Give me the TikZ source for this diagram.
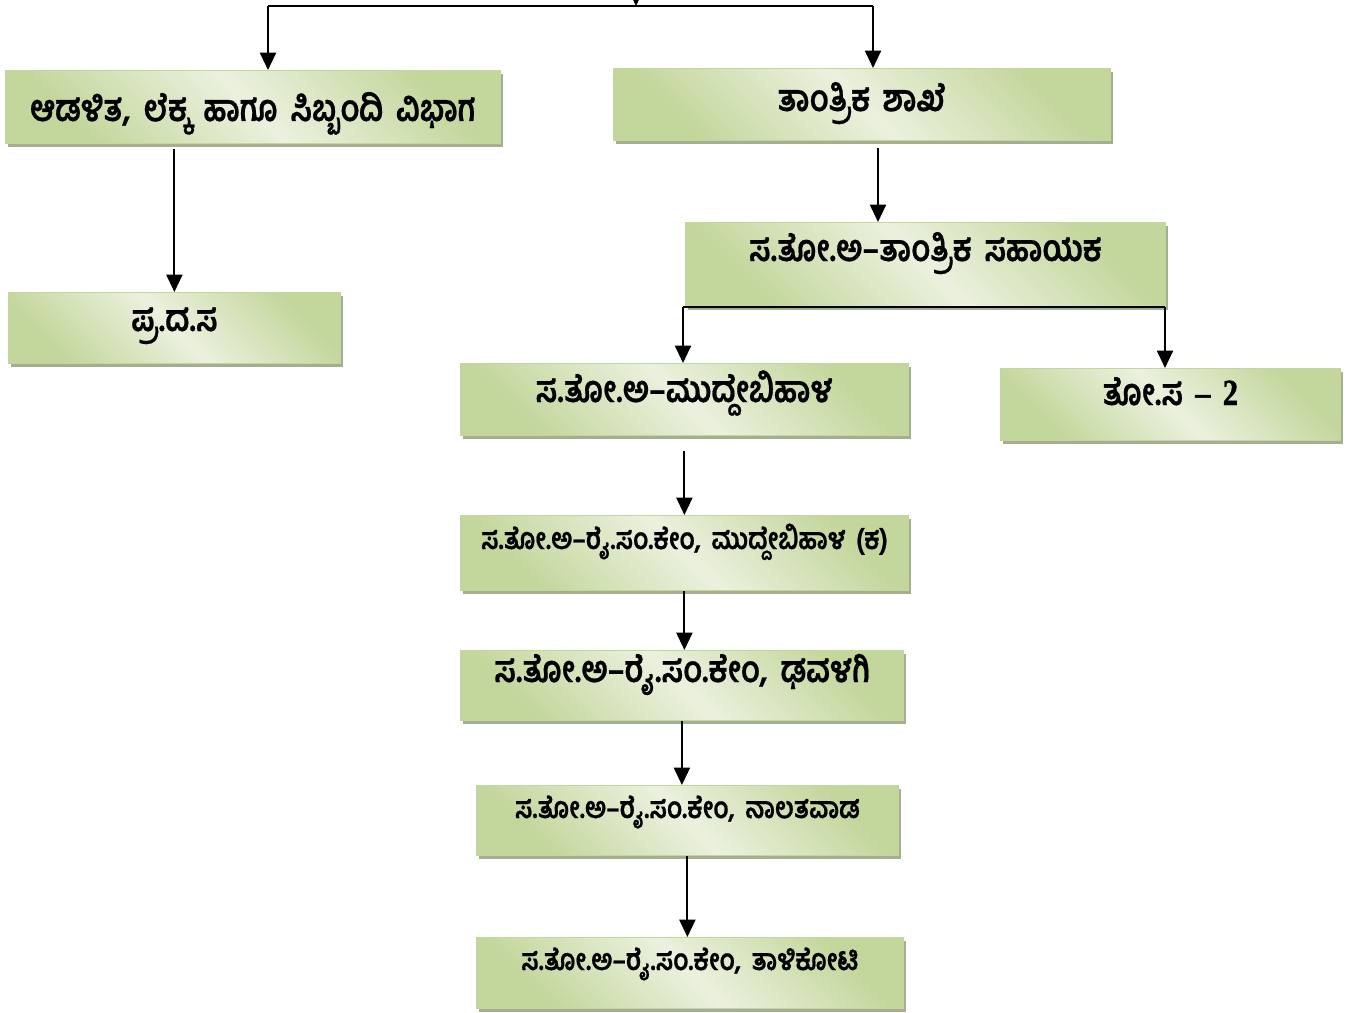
\documentclass[tikz,border=0pt]{standalone}
\usepackage{graphicx}
\usepackage{fontspec}
\setmainfont{Liberation Serif}
\newfontfamily\kn[Script=Kannada, WordSpace=1.7, BoldFeatures={FakeBold=0.7}]{Hind Mysuru}
\newfontfamily\numfont[FakeBold=1.2]{Liberation Serif Bold}
\newcommand\kt[1]{\scalebox{1}[1.2]{#1}}
\usetikzlibrary{arrows.meta,shadows,calc}
\definecolor{gdark}{HTML}{C3D69B}
\definecolor{glight}{HTML}{EBF1DE}
\definecolor{gedge}{HTML}{C3D69B}
\definecolor{gshadow}{HTML}{A6AE91}
\begin{document}
\begin{tikzpicture}[x=0.75pt,y=-0.75pt,
  box/.style={draw=gedge, line width=0.6pt, top color=gdark, bottom color=gdark, middle color=glight, shading angle=-45,
    drop shadow={shadow xshift=2.25pt, shadow yshift=-3pt, fill=gshadow, opacity=1},
    anchor=north west, inner sep=0pt},
  big/.style={font=\kn\bfseries\fontsize{23}{28}\selectfont, anchor=base, inner sep=0pt},
  small/.style={font=\kn\bfseries\fontsize{18.5}{23}\selectfont, anchor=base, inner sep=0pt},
  arr/.style={line width=1.5pt, -{Triangle[width=12pt,length=13pt]}},
  ln/.style={line width=1.5pt}]
\useasboundingbox (0,0) rectangle (1359,1013);
% boxes
\node[box, minimum width=371.25pt, minimum height=54.75pt] (adm) at (5,70) {};
\node[box, minimum width=372.75pt, minimum height=54pt] (tech) at (613,68) {};
\node[box, minimum width=249pt, minimum height=53.25pt] (pra) at (8,292) {};
\node[box, minimum width=360pt, minimum height=63pt] (tsa) at (685,222) {};
\node[box, minimum width=336pt, minimum height=54pt] (mud) at (460,363) {};
\node[box, minimum width=255pt, minimum height=54pt] (tos) at (1000,368) {};
\node[box, minimum width=336pt, minimum height=56.25pt] (rk1) at (460,515) {};
\node[box, minimum width=332.25pt, minimum height=52.5pt] (rk2) at (460,650) {};
\node[box, minimum width=316.5pt, minimum height=52.5pt] (rk3) at (476,785) {};
\node[box, minimum width=320.25pt, minimum height=53.25pt] (rk4) at (476,937) {};
% texts
\node[big] (admT) at (adm.center |- 0,121) {\kt{ಆಡಳಿತ, ಲೆಕ್ಕ ಹಾಗೂ ಸಿಬ್ಬಂದಿ ವಿಭಾಗ}};
\node[big] (techT) at (tech.center |- 0,111) {\kt{ತಾಂತ್ರಿಕ ಶಾಖೆ}};
\node[big] (praT) at (pra.center |- 0,331) {\kt{ಪ್ರ.ದ.ಸ}};
\node[big] (tsaT) at (tsa.center |- 0,261) {\kt{ಸ.ತೋ.ಅ–ತಾಂತ್ರಿಕ ಸಹಾಯಕ}};
\node[big] (mudT) at (mud.center |- 0,402) {\kt{ಸ.ತೋ.ಅ–ಮುದ್ದೇಬಿಹಾಳ}};
\node[big] (tosT) at (tos.center |- 0,405) {\kt{ತೋ.ಸ\hspace{0.4em}{\numfont –\hspace{0.4em}2}}};
\node[small] (rk1T) at (rk1.center |- 0,549) {\kt{ಸ.ತೋ.ಅ–ರೈ.ಸಂ.ಕೇಂ, ಮುದ್ದೇಬಿಹಾಳ (ಕ)}};
\node[big] (rk2T) at (rk2.center |- 0,682) {\kt{ಸ.ತೋ.ಅ–ರೈ.ಸಂ.ಕೇಂ, ಢವಳಗಿ}};
\node[small] (rk3T) at (rk3.center |- 0,818) {\kt{ಸ.ತೋ.ಅ–ರೈ.ಸಂ.ಕೇಂ, ನಾಲತವಾಡ}};
\node[small] (rk4T) at (rk4.center |- 0,970) {\kt{ಸ.ತೋ.ಅ–ರೈ.ಸಂ.ಕೇಂ, ತಾಳಿಕೋಟಿ}};
% top connectors
\coordinate (topin) at (636,-12);
\coordinate (jT) at (636,6);
\coordinate (jL) at (268,6);
\coordinate (jR) at (873,6);
\draw[arr] (topin) -- (jT);
\draw[ln] (jL) -- (jR);
\draw[arr] (jL) -- (jL |- adm.north);
\draw[arr] (jR) -- (jR |- tech.north);
% left
\draw[arr] ($(pra.north |- adm.south)+(0,5)$) -- (pra.north);
% right
\coordinate (c1) at (878,148);
\draw[arr] (c1) -- (c1 |- tsa.north);
\coordinate (sL) at (683,307);
\coordinate (sR) at (1165,307);
\draw[ln] (sL) -- (sR);
\draw[arr] (sL) -- (sL |- mud.north);
\draw[arr] (sR) -- (sR |- tos.north);
% chain
\draw[arr] ($(mud.south)+(0,15)$) -- (rk1.north);
\draw[arr] (rk1.south) -- (rk1.south |- rk2.north);
\draw[arr] (rk2.south) -- (rk2.south |- rk3.north);
\draw[arr] (rk3.south) -- (rk3.south |- rk4.north);
\end{tikzpicture}
\end{document}
